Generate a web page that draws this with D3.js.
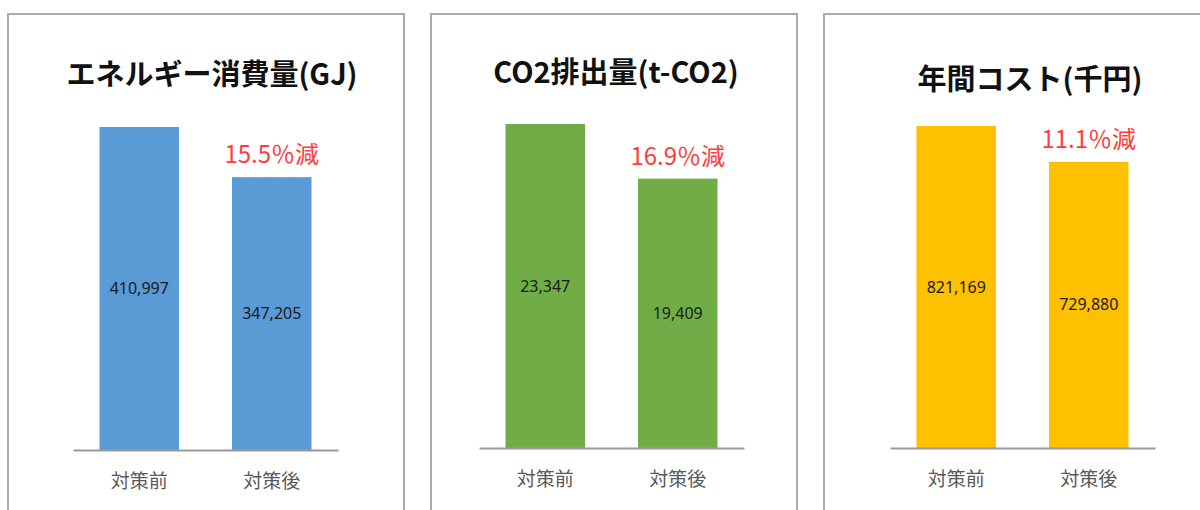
<!DOCTYPE html>
<html>
<head>
<meta charset="utf-8">
<script src="https://cdn.jsdelivr.net/npm/d3@7"></script>
<style>
  html, body { margin: 0; padding: 0; background: #fff; }
  svg { display: block; }
</style>
</head>
<body>
<svg id="chart" width="1200" height="510"></svg>
<script>
// data
const categories = ["対策前", "対策後"];
const titles = ["エネルギー消費量(GJ)", "CO2排出量(t-CO2)", "年間コスト(千円)"];
const energyValues = [410997, 347205];
const co2Values = [23347, 19409];
const costValues = [821169, 729880];
const reductionLabels = ["15.5％減", "16.9％減", "11.1％減"];
const barColors = ["#5b9bd5", "#70ad47", "#ffc000"];

const seriesList = [energyValues, co2Values, costValues];

// where each panel sits (the three are separate screenshots)
const panels = [
  { left: 8, right: 404, axisLeft: 73, baseline: 450, top: 127, titleX: 212, titleY: 75 },
  { left: 431, right: 797, axisLeft: 479, baseline: 448, top: 124, titleX: 616, titleY: 73 },
  { left: 824, right: 1230, axisLeft: 890, baseline: 448, top: 126, titleX: 1030, titleY: 80 },
];

const axisWidth = 265;
const jpFont = "'Noto Sans CJK JP', 'Noto Sans', sans-serif";

const svg = d3.select("#chart");

panels.forEach((p, i) => {
  const values = seriesList[i];
  const g = svg.append("g");

  // frame
  g.append("rect")
    .attr("x", p.left)
    .attr("y", 14)
    .attr("width", p.right - p.left)
    .attr("height", 530)
    .attr("fill", "none")
    .attr("stroke", "#ababab")
    .attr("stroke-width", 2);

  // title
  g.append("text")
    .attr("x", p.titleX)
    .attr("y", p.titleY)
    .attr("dy", "0.36em")
    .attr("text-anchor", "middle")
    .attr("font-family", jpFont)
    .attr("font-weight", "bold")
    .attr("font-size", 29)
    .attr("fill", "#111")
    .text(titles[i]);

  const x = d3
    .scaleBand()
    .domain(categories)
    .range([p.axisLeft, p.axisLeft + axisWidth])
    .paddingInner(0.4)
    .paddingOuter(0.2);

  const y = d3
    .scaleLinear()
    .domain([0, d3.max(values)])
    .range([p.baseline, p.top]);

  // bars
  g.selectAll("rect.bar")
    .data(values)
    .join("rect")
    .attr("class", "bar")
    .attr("x", (d, j) => x(categories[j]))
    .attr("y", (d) => y(d))
    .attr("width", x.bandwidth())
    .attr("height", (d) => y(0) - y(d))
    .attr("fill", barColors[i]);

  // value labels in the middle of each bar
  g.selectAll("text.val")
    .data(values)
    .join("text")
    .attr("class", "val")
    .attr("x", (d, j) => x(categories[j]) + x.bandwidth() / 2)
    .attr("y", (d) => (y(d) + y(0)) / 2)
    .attr("dy", "0.35em")
    .attr("text-anchor", "middle")
    .attr("font-family", "'Noto Sans', sans-serif")
    .attr("font-size", 16)
    .attr("fill", "#1a1a1a")
    .text((d) => d3.format(",")(d));

  // x axis
  const axis = g
    .append("g")
    .attr("transform", `translate(0, ${p.baseline})`)
    .call(d3.axisBottom(x).tickSize(0).tickPadding(25));

  axis.select(".domain").attr("stroke", "#999").attr("stroke-width", 2);
  axis
    .selectAll(".tick text")
    .attr("font-family", jpFont)
    .attr("font-size", 19)
    .attr("fill", "#595959");

  // reduction label above the second bar
  g.append("text")
    .attr("x", x(categories[1]) + x.bandwidth() / 2)
    .attr("y", y(values[1]) - 14)
    .attr("text-anchor", "middle")
    .attr("font-family", jpFont)
    .attr("font-size", 24)
    .attr("fill", "#ff3b3b")
    .text(reductionLabels[i]);
});
</script>
</body>
</html>
